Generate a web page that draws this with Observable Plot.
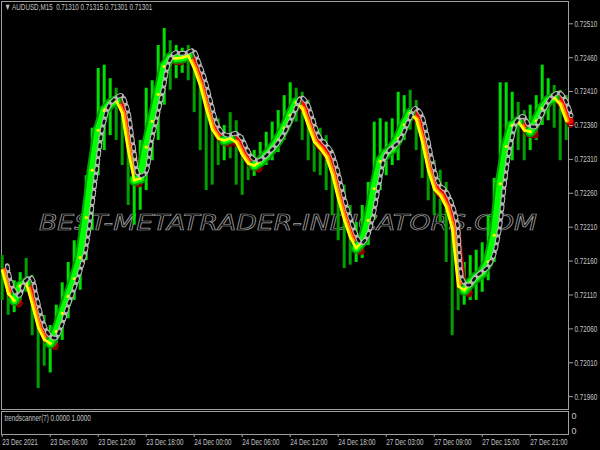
<!DOCTYPE html>
<html><head><meta charset="utf-8">
<script src="https://cdn.jsdelivr.net/npm/d3@7"></script>
<script src="https://cdn.jsdelivr.net/npm/@observablehq/plot@0.6"></script>
<style>
html,body{margin:0;padding:0;background:#000;}
#chart{width:600px;height:450px;overflow:hidden;background:#000;}
svg{display:block;}
</style></head><body><div id="chart"></div>
<script>
// sampled every 3 M15 bars (bar index = sample * step)
const step = 3;
const linePrice = [0.72146,0.72112,0.72102,0.72123,0.72128,0.72096,0.72062,0.72044,0.72039,0.72056,
0.72083,0.72108,0.72134,0.72165,0.72224,0.72294,0.72353,0.72382,0.72392,0.72397,
0.72378,0.72323,0.72279,0.72282,0.72328,0.72366,0.72406,0.72447,0.72460,0.72459,
0.72460,0.72463,0.72444,0.72419,0.72385,0.72354,0.72341,0.72338,0.72341,0.72335,
0.72317,0.72304,0.72301,0.72307,0.72316,0.72326,0.72339,0.72356,0.72375,0.72394,
0.72385,0.72360,0.72336,0.72326,0.72314,0.72288,0.72252,0.72221,0.72195,0.72179,
0.72189,0.72220,0.72267,0.72307,0.72319,0.72326,0.72341,0.72361,0.72378,0.72369,
0.72336,0.72294,0.72266,0.72257,0.72240,0.72208,0.72123,0.72117,0.72128,0.72136,
0.72143,0.72159,0.72198,0.72274,0.72329,0.72360,0.72366,0.72353,0.72351,0.72367,
0.72385,0.72397,0.72401,0.72391,0.72367];
const barHigh = [0.72168,0.72154,0.72131,0.72143,0.72164,0.72139,0.72102,0.72080,0.72065,0.72095,
0.72128,0.72158,0.72190,0.72213,0.72286,0.72356,0.72444,0.72449,0.72429,0.72415,
0.72400,0.72360,0.72323,0.72338,0.72415,0.72426,0.72478,0.72503,0.72485,0.72478,
0.72474,0.72478,0.72463,0.72444,0.72412,0.72385,0.72370,0.72360,0.72379,0.72367,
0.72345,0.72326,0.72323,0.72335,0.72350,0.72365,0.72382,0.72404,0.72423,0.72415,
0.72409,0.72397,0.72370,0.72356,0.72345,0.72323,0.72297,0.72272,0.72242,0.72217,
0.72242,0.72276,0.72365,0.72370,0.72365,0.72370,0.72409,0.72404,0.72412,0.72397,
0.72367,0.72335,0.72308,0.72294,0.72276,0.72249,0.72176,0.72158,0.72168,0.72176,
0.72187,0.72227,0.72282,0.72423,0.72423,0.72409,0.72394,0.72382,0.72390,0.72404,
0.72449,0.72429,0.72419,0.72412,0.72404];
const barLow = [0.72102,0.72080,0.72084,0.72102,0.72114,0.72050,0.71972,0.72005,0.71995,0.72029,
0.72043,0.72075,0.72102,0.72117,0.72161,0.72205,0.72286,0.72323,0.72345,0.72338,
0.72301,0.72242,0.72213,0.72235,0.72264,0.72308,0.72338,0.72390,0.72412,0.72429,
0.72437,0.72426,0.72379,0.72323,0.72264,0.72272,0.72301,0.72308,0.72311,0.72272,
0.72257,0.72279,0.72285,0.72294,0.72301,0.72308,0.72320,0.72338,0.72360,0.72365,
0.72338,0.72308,0.72291,0.72286,0.72264,0.72227,0.72190,0.72149,0.72154,0.72158,
0.72164,0.72183,0.72220,0.72264,0.72286,0.72301,0.72308,0.72338,0.72353,0.72323,
0.72282,0.72249,0.72227,0.72217,0.72158,0.72050,0.72087,0.72095,0.72102,0.72102,
0.72114,0.72131,0.72158,0.72217,0.72279,0.72308,0.72323,0.72308,0.72323,0.72338,
0.72360,0.72367,0.72356,0.72308,0.72338];
const priceTicks = [0.71960,0.72010,0.72060,0.72110,0.72160,0.72210,0.72260,0.72310,0.72360,0.72410,0.72460,0.72510];
const timeTickBars = [0,24,48,72,96,120,144,168,192,216,240,264];
const timeLabels = ["23 Dec 2021","23 Dec 06:00","23 Dec 12:00","23 Dec 18:00","24 Dec 00:00","24 Dec 06:00",
  "24 Dec 12:00","24 Dec 18:00","27 Dec 03:00","27 Dec 09:00","27 Dec 15:00","27 Dec 21:00"];
const headerText = "\u25BC AUDUSD,M15  0.71310 0.71315 0.71301 0.71301";
const subLabel = "trendscanner(7) 0.0000 1.0000";
const subLevels = ["0","0"];
const watermark = "BEST-METATRADER-INDICATORS.COM";

const font = `"Liberation Sans","DejaVu Sans",sans-serif`;
const xDomain = [-0.35, 283.15];
const yDomain = [0.719411, 0.725429];

const segs = [];
for (let k = 0; k < linePrice.length - 1; k++) {
  const a = linePrice[k], b = linePrice[k + 1];
  segs.push({x1: k * step, x2: (k + 1) * step, y1: a, y2: b, up: b > a, steep: b - a > 0.00012});
}
const pts = linePrice.map((p, k) => ({
  i: k * step, p,
  steepUp: (segs[k - 1] && segs[k - 1].up && segs[k - 1].steep) || (segs[k] && segs[k].up && segs[k].steep)
}));
const bars = barHigh.map((h, k) => ({i: k * step, h, l: barLow[k], up: segs[Math.min(k, segs.length - 1)].up}));
const downSegs = segs.filter(s => !s.up), upSegs = segs.filter(s => s.up);
const L = {x1: "x1", y1: "y1", x2: "x2", y2: "y2", strokeLinecap: "round"};

const main = Plot.plot({
  width: 600, height: 410,
  marginLeft: 1, marginRight: 32, marginTop: 1, marginBottom: 1,
  style: {background: "#000", color: "#c4c4c4", fontFamily: font, fontSize: "9px", overflow: "visible"},
  x: {domain: xDomain, axis: null},
  y: {domain: yDomain},
  marks: [
    Plot.frame({stroke: "#a0a0a0"}),
    Plot.text([watermark], {frameAnchor: "middle", dx: 3, dy: 18, fontSize: 21, fontStyle: "italic",
      fontFamily: "DejaVu Sans", fill: "none", stroke: "#a0a0a0", strokeWidth: 0.7}),
    Plot.ruleX(bars, {x: "i", y1: "l", y2: "h", stroke: d => d.up ? "#00e000" : "#00a000", strokeWidth: 3}),
    Plot.link(downSegs, {...L, stroke: "#8a0000", strokeWidth: 8, dx: 4.5, dy: 3}),
    Plot.link(downSegs, {...L, stroke: "#ff0000", strokeWidth: 7, dx: 3.5}),
    Plot.link(downSegs, {...L, stroke: "#ff8c00", strokeWidth: 4, dx: 1.2}),
    Plot.link(upSegs, {...L, stroke: "#00a000", strokeWidth: 11}),
    Plot.link(upSegs, {...L, stroke: "#00ff00", strokeWidth: 7}),
    Plot.link(segs.filter(s => !(s.up && s.steep)), {...L, stroke: "#ffff00", strokeWidth: 2.6}),
    Plot.dot(pts.filter(d => d.steepUp), {x: "i", y: "p", r: 1.6, fill: "#ffff00"}),
    // lagging square markers
    Plot.line(pts, {x: "i", y: "p", curve: "catmull-rom", stroke: "#b8b8b8", strokeWidth: 4.6,
      strokeDasharray: "4.6 3.4", dx: 5, dy: -5}),
    Plot.line(pts, {x: "i", y: "p", curve: "catmull-rom", stroke: "#0a0a0a", strokeWidth: 2.6,
      strokeDasharray: "2.6 5.4", strokeDashoffset: -1, dx: 5, dy: -5}),
    Plot.axisY({anchor: "right", ticks: priceTicks, tickFormat: d3.format(".5f"), tickSize: 4, tickPadding: 2, label: null, stroke: "#a0a0a0"}),
    Plot.text([headerText], {frameAnchor: "top-left", dx: 3, dy: 2, lineAnchor: "top", fill: "#c4c4c4"})
  ]
});

const sub = Plot.plot({
  width: 600, height: 40,
  marginLeft: 1, marginRight: 32, marginTop: 1, marginBottom: 16,
  style: {background: "#000", color: "#c4c4c4", fontFamily: font, fontSize: "9px", overflow: "visible"},
  x: {domain: xDomain},
  y: {domain: [0, 1], axis: null},
  marks: [
    Plot.frame({stroke: "#a0a0a0"}),
    Plot.axisX({anchor: "bottom", ticks: timeTickBars, tickFormat: d => timeLabels[timeTickBars.indexOf(d)],
      tickSize: 3, tickPadding: 1, textAnchor: "start", label: null, stroke: "#a0a0a0"}),
    Plot.text([subLabel], {frameAnchor: "top-left", dx: 3, dy: 3, lineAnchor: "top", fill: "#c4c4c4"}),
    Plot.text([subLevels[0]], {frameAnchor: "top-right", dx: 3, dy: 1, textAnchor: "start", lineAnchor: "top", fill: "#c4c4c4"}),
    Plot.text([subLevels[1]], {frameAnchor: "bottom-right", dx: 3, dy: -1, textAnchor: "start", lineAnchor: "bottom", fill: "#c4c4c4"})
  ]
});

const root = document.getElementById("chart");
root.appendChild(main);
root.appendChild(sub);
// condensed look of the terminal font: horizontal squeeze about each text's anchor
const num = /^-?\d+(\.\d+)?$/;
for (const svg of [main, sub]) {
  d3.select(svg).selectAll("text").each(function() {
    const t = d3.select(this);
    if (this.textContent === watermark) {
      t.attr("textLength", 498).attr("lengthAdjust", "spacingAndGlyphs");
    } else if (this.textContent.length > 1) {
      let pre = t.attr("transform") || "";
      const xs = t.attr("x");
      if (xs != null && num.test(xs)) { pre += ` translate(${xs},0)`; t.attr("x", null); }
      t.attr("transform", `${pre} scale(0.7,1)`.trim());
    }
  });
}
</script>
</body></html>
